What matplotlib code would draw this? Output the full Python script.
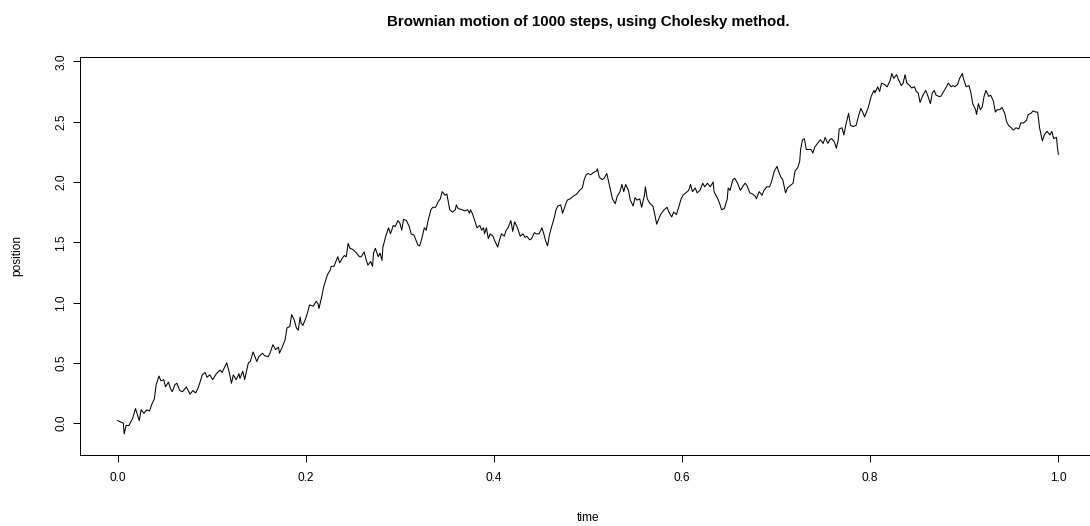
import matplotlib
matplotlib.use('Agg')
import matplotlib.pyplot as plt

# values (time, position)
time = [
    0.000, 0.006, 0.007, 0.009, 0.012, 0.016, 0.019, 0.023, 0.025, 0.028,
    0.031, 0.034, 0.036, 0.039, 0.041, 0.044, 0.046, 0.049, 0.051, 0.054,
    0.056, 0.058, 0.061, 0.063, 0.066, 0.069, 0.073, 0.077, 0.080, 0.083,
    0.086, 0.090, 0.093, 0.095, 0.098, 0.101, 0.105, 0.109, 0.111, 0.116,
    0.119, 0.121, 0.123, 0.126, 0.129, 0.130, 0.133, 0.135, 0.139, 0.141,
    0.144, 0.148, 0.150, 0.154, 0.156, 0.160, 0.162, 0.165, 0.168, 0.171,
    0.172, 0.175, 0.178, 0.180, 0.183, 0.185, 0.188, 0.190, 0.192, 0.194,
    0.195, 0.197, 0.200, 0.202, 0.204, 0.208, 0.211, 0.213, 0.214, 0.217,
    0.219, 0.223, 0.226, 0.227, 0.230, 0.232, 0.234, 0.236, 0.239, 0.241,
    0.243, 0.245, 0.247, 0.250, 0.254, 0.257, 0.259, 0.262, 0.264, 0.266,
    0.269, 0.271, 0.272, 0.274, 0.277, 0.279, 0.281, 0.282, 0.285, 0.288,
    0.290, 0.293, 0.295, 0.298, 0.300, 0.302, 0.304, 0.307, 0.310, 0.312,
    0.315, 0.317, 0.319, 0.321, 0.323, 0.326, 0.328, 0.330, 0.333, 0.335,
    0.338, 0.341, 0.343, 0.345, 0.348, 0.350, 0.353, 0.356, 0.359, 0.360,
    0.362, 0.366, 0.369, 0.372, 0.374, 0.375, 0.377, 0.380, 0.382, 0.385,
    0.387, 0.389, 0.390, 0.392, 0.394, 0.396, 0.399, 0.401, 0.404, 0.406,
    0.408, 0.411, 0.413, 0.415, 0.418, 0.420, 0.422, 0.425, 0.428, 0.431,
    0.433, 0.435, 0.438, 0.440, 0.443, 0.445, 0.448, 0.451, 0.453, 0.455,
    0.457, 0.459, 0.461, 0.464, 0.466, 0.468, 0.471, 0.473, 0.476, 0.478,
    0.481, 0.484, 0.488, 0.491, 0.494, 0.496, 0.498, 0.500, 0.503, 0.506,
    0.509, 0.510, 0.512, 0.515, 0.517, 0.520, 0.522, 0.524, 0.526, 0.529,
    0.531, 0.534, 0.536, 0.538, 0.540, 0.543, 0.545, 0.548, 0.550, 0.552,
    0.555, 0.557, 0.560, 0.561, 0.563, 0.566, 0.569, 0.571, 0.573, 0.576,
    0.578, 0.581, 0.584, 0.586, 0.589, 0.591, 0.594, 0.596, 0.599, 0.601,
    0.604, 0.607, 0.609, 0.611, 0.614, 0.616, 0.619, 0.622, 0.624, 0.627,
    0.630, 0.633, 0.634, 0.636, 0.638, 0.640, 0.642, 0.645, 0.648, 0.649,
    0.651, 0.654, 0.656, 0.659, 0.662, 0.665, 0.667, 0.669, 0.672, 0.675,
    0.678, 0.679, 0.682, 0.685, 0.687, 0.690, 0.693, 0.695, 0.698, 0.701,
    0.702, 0.705, 0.707, 0.710, 0.712, 0.715, 0.718, 0.720, 0.723, 0.725,
    0.726, 0.728, 0.730, 0.732, 0.734, 0.737, 0.739, 0.741, 0.744, 0.747,
    0.750, 0.752, 0.755, 0.757, 0.759, 0.762, 0.764, 0.766, 0.767, 0.770,
    0.772, 0.774, 0.777, 0.779, 0.782, 0.785, 0.788, 0.790, 0.792, 0.794,
    0.796, 0.798, 0.801, 0.804, 0.805, 0.808, 0.810, 0.812, 0.815, 0.818,
    0.821, 0.823, 0.825, 0.828, 0.830, 0.833, 0.835, 0.837, 0.839, 0.842,
    0.844, 0.847, 0.849, 0.851, 0.853, 0.856, 0.859, 0.861, 0.864, 0.866,
    0.868, 0.870, 0.873, 0.875, 0.878, 0.881, 0.883, 0.886, 0.888, 0.890,
    0.893, 0.895, 0.898, 0.899, 0.902, 0.905, 0.907, 0.909, 0.912, 0.913,
    0.915, 0.917, 0.919, 0.921, 0.923, 0.926, 0.928, 0.931, 0.933, 0.935,
    0.938, 0.940, 0.943, 0.945, 0.947, 0.950, 0.952, 0.955, 0.958, 0.960,
    0.963, 0.966, 0.968, 0.971, 0.973, 0.976, 0.978, 0.980, 0.983, 0.985,
    0.988, 0.991, 0.993, 0.995, 0.998, 0.999, 1.000,
]
position = [
    0.02, 0.00, -0.09, -0.02, -0.02, 0.04, 0.12, 0.02, 0.11, 0.08,
    0.11, 0.10, 0.15, 0.20, 0.32, 0.39, 0.35, 0.36, 0.30, 0.34,
    0.29, 0.26, 0.32, 0.33, 0.27, 0.26, 0.30, 0.24, 0.27, 0.25,
    0.30, 0.40, 0.42, 0.38, 0.40, 0.36, 0.41, 0.44, 0.42, 0.50,
    0.41, 0.33, 0.40, 0.36, 0.41, 0.37, 0.43, 0.36, 0.50, 0.51,
    0.59, 0.51, 0.55, 0.58, 0.56, 0.55, 0.58, 0.65, 0.61, 0.63,
    0.58, 0.63, 0.69, 0.79, 0.80, 0.90, 0.85, 0.79, 0.77, 0.88,
    0.83, 0.81, 0.87, 0.92, 0.98, 0.97, 1.01, 0.99, 0.95, 1.05,
    1.13, 1.23, 1.27, 1.30, 1.30, 1.34, 1.38, 1.33, 1.37, 1.39,
    1.38, 1.49, 1.45, 1.44, 1.41, 1.38, 1.38, 1.42, 1.36, 1.31,
    1.34, 1.30, 1.41, 1.45, 1.38, 1.41, 1.35, 1.46, 1.55, 1.62,
    1.57, 1.64, 1.63, 1.68, 1.66, 1.60, 1.69, 1.68, 1.63, 1.57,
    1.56, 1.52, 1.48, 1.47, 1.52, 1.62, 1.60, 1.68, 1.77, 1.79,
    1.79, 1.84, 1.86, 1.92, 1.89, 1.90, 1.77, 1.75, 1.77, 1.81,
    1.78, 1.77, 1.76, 1.77, 1.74, 1.77, 1.74, 1.67, 1.62, 1.64,
    1.60, 1.62, 1.57, 1.62, 1.53, 1.57, 1.55, 1.51, 1.46, 1.52,
    1.57, 1.55, 1.60, 1.62, 1.68, 1.59, 1.67, 1.62, 1.55, 1.57,
    1.54, 1.55, 1.52, 1.53, 1.58, 1.57, 1.57, 1.62, 1.57, 1.51,
    1.47, 1.56, 1.62, 1.70, 1.77, 1.80, 1.81, 1.74, 1.81, 1.85,
    1.86, 1.88, 1.90, 1.93, 1.95, 2.02, 2.06, 2.07, 2.06, 2.08,
    2.09, 2.11, 2.04, 2.02, 2.03, 2.07, 2.00, 1.93, 1.86, 1.82,
    1.88, 1.92, 1.98, 1.92, 1.98, 1.93, 1.85, 1.80, 1.87, 1.85,
    1.86, 1.79, 1.89, 1.96, 1.86, 1.82, 1.80, 1.73, 1.65, 1.71,
    1.74, 1.77, 1.79, 1.75, 1.71, 1.75, 1.73, 1.78, 1.86, 1.89,
    1.91, 1.93, 1.98, 1.92, 1.95, 1.91, 1.93, 1.99, 1.96, 1.99,
    1.96, 2.00, 1.92, 1.89, 1.86, 1.82, 1.77, 1.78, 1.86, 1.95,
    1.93, 2.02, 2.03, 1.99, 1.93, 1.97, 1.99, 1.97, 1.91, 1.90,
    1.88, 1.86, 1.92, 1.89, 1.93, 1.96, 1.96, 2.00, 2.09, 2.13,
    2.10, 2.04, 2.02, 1.91, 1.95, 1.97, 1.99, 2.09, 2.12, 2.17,
    2.27, 2.35, 2.36, 2.27, 2.27, 2.27, 2.24, 2.29, 2.32, 2.35,
    2.32, 2.37, 2.32, 2.35, 2.36, 2.33, 2.28, 2.35, 2.44, 2.45,
    2.39, 2.47, 2.57, 2.47, 2.46, 2.47, 2.56, 2.61, 2.58, 2.54,
    2.58, 2.62, 2.71, 2.76, 2.74, 2.79, 2.75, 2.82, 2.81, 2.79,
    2.84, 2.90, 2.86, 2.89, 2.85, 2.80, 2.82, 2.89, 2.82, 2.80,
    2.78, 2.79, 2.75, 2.74, 2.66, 2.72, 2.76, 2.72, 2.65, 2.74,
    2.76, 2.72, 2.71, 2.71, 2.75, 2.79, 2.82, 2.79, 2.80, 2.79,
    2.81, 2.86, 2.90, 2.86, 2.79, 2.80, 2.74, 2.65, 2.60, 2.56,
    2.65, 2.60, 2.62, 2.71, 2.76, 2.71, 2.72, 2.67, 2.58, 2.60,
    2.60, 2.62, 2.57, 2.50, 2.47, 2.45, 2.43, 2.45, 2.44, 2.49,
    2.49, 2.51, 2.56, 2.57, 2.59, 2.58, 2.58, 2.45, 2.34, 2.39,
    2.42, 2.39, 2.42, 2.36, 2.37, 2.29, 2.23,
]

xticks = [0.0, 0.2, 0.4, 0.6, 0.8, 1.0]
yticks = [0.0, 0.5, 1.0, 1.5, 2.0, 2.5, 3.0]

plt.rcParams['font.family'] = ['Liberation Sans', 'DejaVu Sans']

W, H = 1090, 526
fig = plt.figure(figsize=(W / 100, H / 100), dpi=100)
# plot box: left 80px, top 57px, bottom 455px, right edge falls just outside the picture
ax = fig.add_axes([80 / W, (H - 455) / H, (1096 - 80) / W, (455 - 57) / H])

ax.plot(time, position, color='black', lw=0.75)

ax.set_xlim(-0.04, 1.04)
ax.set_ylim(-0.265, 3.037)
ax.set_xticks(xticks)
ax.set_xticklabels([f'{v:.1f}' for v in xticks])
ax.set_yticks(yticks)
ax.set_yticklabels([f'{v:.1f}' for v in yticks], rotation=90, va='center')
ax.tick_params(direction='out', length=5, width=0.72, labelsize=8.6, colors='black')
ax.tick_params(axis='x', pad=7)
ax.tick_params(axis='y', pad=4)
for s in ax.spines.values():
    s.set_linewidth(0.72)
    s.set_color('black')

ax.set_xlabel('time', fontsize=8.6)
ax.set_ylabel('position', fontsize=8.6)
ax.xaxis.set_label_coords(0.5, -0.143)
ax.yaxis.set_label_coords(-0.056, 0.5)

ax.text(0.5, 1.088, 'Brownian motion of 1000 steps, using Cholesky method.',
        transform=ax.transAxes, ha='center', va='center',
        fontsize=10.8, fontweight='bold')

fig.savefig('out.png', dpi=100)
